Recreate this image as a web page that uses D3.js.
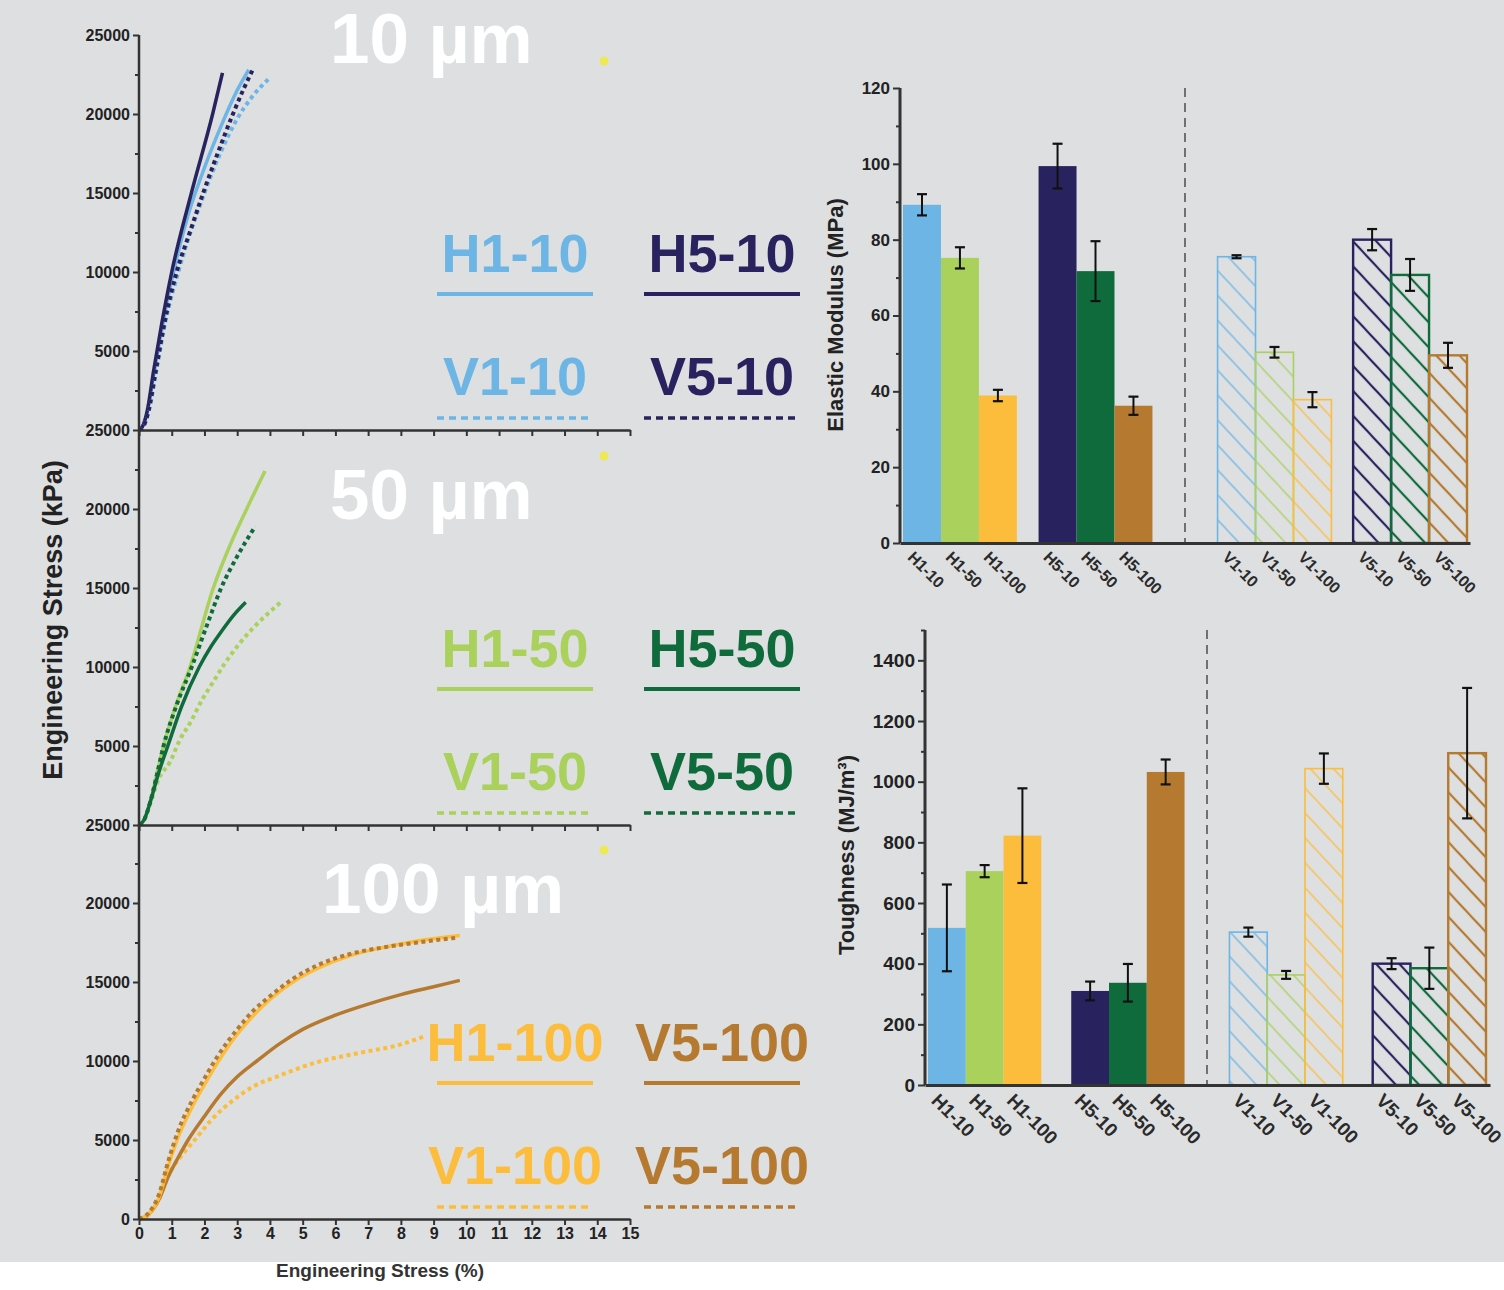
<!DOCTYPE html>
<html>
<head>
<meta charset="utf-8">
<script src="https://cdn.jsdelivr.net/npm/d3@7"></script>
<style>
  body { margin: 0; background: #fff; }
  svg text { font-family: "Liberation Sans", Arial, sans-serif; font-weight: bold; }
</style>
</head>
<body>
<svg id="fig" width="1504" height="1290"></svg>
<script>
// ---- stress-strain curves: [strain %, stress kPa] ----
var h1_10 = [[0,0],[0.1,200],[0.25,1100],[0.45,3500],[0.7,6400],[1.0,9500],[1.5,13600],[2.0,16600],[2.5,19200],[3.0,21500],[3.35,22800]];
var h5_10 = [[0,0],[0.1,200],[0.25,1200],[0.45,3800],[0.7,6800],[1.0,10000],[1.6,15000],[2.25,20000],[2.55,22600]];
var v1_10 = [[0,0],[0.15,300],[0.3,1200],[0.5,3400],[0.8,6800],[1.2,10000],[2.0,15000],[2.5,17600],[3.0,19700],[3.5,21200],[3.95,22200]];
var v5_10 = [[0,0],[0.15,300],[0.3,1300],[0.5,3600],[0.8,7000],[1.15,10000],[1.55,12500],[1.96,15000],[2.4,17500],[2.87,20000],[3.2,21600],[3.5,22900]];

var h1_50 = [[0,0],[0.15,300],[0.35,1500],[0.55,3300],[0.75,5000],[1.1,7400],[1.56,10000],[2.27,15000],[2.8,17800],[3.29,20000],[3.85,22400]];
var h5_50 = [[0,0],[0.15,300],[0.35,1500],[0.6,3300],[0.88,5000],[1.3,7500],[1.84,10000],[2.2,11300],[2.5,12200],[2.9,13300],[3.26,14100]];
var v1_50 = [[0,0],[0.15,300],[0.35,1400],[0.6,2900],[0.95,4000],[1.25,5400],[1.56,6450],[1.92,7900],[2.25,9000],[2.58,10100],[3.0,11300],[3.5,12500],[4.0,13500],[4.36,14150]];
var v5_50 = [[0,0],[0.15,300],[0.35,1500],[0.55,3200],[0.75,5000],[1.15,7600],[1.61,10000],[2.05,12500],[2.51,15000],[3.0,17000],[3.55,18900]];

var h1_100 = [[0,0],[0.3,300],[0.6,1300],[0.9,3400],[1.2,5200],[1.6,7000],[2.0,8500],[2.4,9900],[3.0,11700],[3.5,12900],[4.0,13900],[4.7,15000],[5.5,15900],[6.5,16700],[7.5,17200],[8.5,17600],[9.8,17950]];
var h5_100 = [[0,0],[0.3,300],[0.6,1200],[0.9,2700],[1.2,3900],[1.5,5000],[2.0,6500],[2.5,7900],[3.0,9000],[3.6,10000],[4.3,11100],[5.0,12000],[6.0,12900],[7.0,13600],[8.0,14200],[9.0,14700],[9.8,15100]];
var v1_100 = [[0,0],[0.3,300],[0.6,1200],[0.9,2800],[1.3,4000],[1.7,5000],[2.2,6250],[2.9,7550],[3.5,8400],[4.2,9000],[5.4,9900],[6.7,10500],[8.0,11050],[8.7,11550]];
var v5_100 = [[0,0],[0.3,400],[0.6,1500],[0.9,3700],[1.2,5600],[1.6,7400],[2.0,8900],[2.4,10300],[3.0,12000],[3.5,13200],[4.0,14100],[4.7,15200],[5.5,16100],[6.5,16800],[7.5,17200],[8.5,17500],[9.7,17800]];

var panelTitles = ["10 µm", "50 µm", "100 µm"];
var legendNames = [["H1-10","H5-10","V1-10","V5-10"],
                   ["H1-50","H5-50","V1-50","V5-50"],
                   ["H1-100","V5-100","V1-100","V5-100"]];

// ---- bar charts ----
var barLabels = ["H1-10","H1-50","H1-100","H5-10","H5-50","H5-100","V1-10","V1-50","V1-100","V5-10","V5-50","V5-100"];
var halves = ["H","V"];
var groups = ["1","5"];
var sizes = ["10","50","100"];
var modulus    = [89.2, 75.2, 38.9, 99.4, 71.7, 36.2, 75.5, 50.3, 37.8, 80.0, 70.7, 49.5];
var modulusErr = [2.8, 2.8, 1.5, 5.9, 7.9, 2.4, 0.4, 1.4, 2.0, 2.8, 4.2, 3.3];
var toughness    = [518, 705, 822, 310, 337, 1032, 504, 363, 1043, 400, 385, 1094];
var toughnessErr = [143, 20, 156, 31, 62, 41, 15, 13, 50, 18, 68, 215];

var colors = {
  "1-10": "#6cb5e5", "1-50": "#a9d15b", "1-100": "#fcbd3c",
  "5-10": "#28235f", "5-50": "#106b3c", "5-100": "#b57a2f"
};
function colorOf(name) { return colors[name.slice(1)]; }

var svg = d3.select("#fig");

// background
svg.append("rect").attr("width", 1504).attr("height", 1262).attr("fill", "#dddfe1");

// ================= left: stress-strain panels =================
var x = d3.scaleLinear().domain([0, 15]).range([139, 630]);

var panels = [
  { bottom: 430, top: 35,  series: [h1_10, h5_10, v1_10, v5_10], names: ["H1-10","H5-10","V1-10","V5-10"] },
  { bottom: 825, top: 430, series: [h1_50, v1_50, h5_50, v5_50], names: ["H1-50","V1-50","H5-50","V5-50"] },
  { bottom: 1219, top: 824, series: [v1_100, h5_100, h1_100, v5_100], names: ["V1-100","H5-100","H1-100","V5-100"] }
];

var line = d3.line().curve(d3.curveMonotoneX);

panels.forEach(function(p, i) {
  var y = d3.scaleLinear().domain([0, 25000]).range([p.bottom, p.top]);
  line.x(function(d) { return x(d[0]); }).y(function(d) { return y(d[1]); });

  // curves
  p.series.forEach(function(s, k) {
    var name = p.names[k];
    var dotted = name[0] === "V";
    svg.append("path")
      .attr("d", line(s))
      .attr("fill", "none")
      .attr("stroke", colorOf(name))
      .attr("stroke-width", dotted ? 4 : 3.5)
      .attr("stroke-dasharray", dotted ? "4,3.5" : null)
      .attr("stroke-linecap", "butt");
  });

  // y axis
  var major = i === 0 ? d3.range(0, 25001, 5000) : d3.range(0, 20001, 5000);
  var yAxis = svg.append("g")
    .attr("transform", "translate(139,0)")
    .call(d3.axisLeft(y).tickValues(major).tickSize(6).tickSizeOuter(0)
      .tickFormat(function(d) { return (d === 0 && i < 2) ? "25000" : d; }));
  yAxis.select(".domain").attr("d", "M0," + p.top + "V" + p.bottom);
  svg.append("g")
    .attr("transform", "translate(139,0)")
    .call(d3.axisLeft(y).tickValues(d3.range(2500, 25000, 5000)).tickSize(4).tickFormat(""))
    .select(".domain").remove();

  // x axis
  svg.append("g")
    .attr("transform", "translate(0," + p.bottom + ")")
    .call(d3.axisBottom(x).tickValues(d3.range(0, 16)).tickSize(6).tickSizeOuter(0)
      .tickFormat(i === 2 ? d3.format("d") : ""));

  // big size title
  svg.append("text")
    .attr("x", i === 2 ? 322 : 330)
    .attr("y", p.bottom - (i === 0 ? 367 : 306))
    .attr("fill", "#fff")
    .style("font-size", "71px")
    .text(panelTitles[i]);

  svg.append("circle")
    .attr("cx", 604).attr("cy", p.top + 26)
    .attr("r", 4.5).attr("fill", "#f1ea3c").attr("opacity", 0.85);

  // legend
  var lg = legendNames[i];
  lg.forEach(function(name, k) {
    var cx = k % 2 === 0 ? 515 : 722;
    var row = k < 2 ? 0 : 1;
    svg.append("text")
      .attr("x", cx).attr("y", p.bottom - (row === 0 ? 158 : 35))
      .attr("text-anchor", "middle")
      .attr("fill", colorOf(name))
      .style("font-size", "54px")
      .text(name);
    svg.append("line")
      .attr("x1", cx - 78).attr("x2", cx + 78)
      .attr("y1", p.bottom - (row === 0 ? 136 : 12))
      .attr("y2", p.bottom - (row === 0 ? 136 : 12))
      .attr("stroke", colorOf(name))
      .attr("stroke-width", row === 0 ? 4 : 3.5)
      .attr("stroke-dasharray", row === 0 ? null : "7,5");
  });
});

svg.selectAll(".tick text").style("font-size", "16px").attr("fill", "#222");
svg.selectAll(".domain").attr("stroke", "#333").attr("stroke-width", 2.5);
svg.selectAll(".tick line").attr("stroke", "#333").attr("stroke-width", 2);

svg.append("text")
  .attr("transform", "translate(62,620) rotate(-90)")
  .attr("text-anchor", "middle")
  .attr("fill", "#222")
  .style("font-size", "27px")
  .text("Engineering Stress (kPa)");

svg.append("text")
  .attr("x", 380).attr("y", 1277)
  .attr("text-anchor", "middle")
  .attr("fill", "#333")
  .style("font-size", "19px")
  .text("Engineering Stress (%)");

// ================= right: bar charts =================
var defs = svg.append("defs");
barLabels.forEach(function(name, i) {
  if (name[0] !== "V") return;
  var thick = name[1] === "5";
  var pat = defs.append("pattern")
    .attr("id", "hatch-" + i)
    .attr("patternUnits", "userSpaceOnUse")
    .attr("width", 20).attr("height", 17)
    .attr("patternTransform", "rotate(47)");
  pat.append("line")
    .attr("x1", 0).attr("x2", 20).attr("y1", 8).attr("y2", 8)
    .attr("stroke", colorOf(name))
    .attr("stroke-width", thick ? 2.2 : 1.3);
});

function barChart(opt) {
  var y = d3.scaleLinear().domain([0, opt.max]).range([opt.bottom, opt.top]);

  var xHalf = d3.scaleBand().domain(halves).range([opt.left, opt.right]).paddingInner(opt.halfPad);
  var xGroup = d3.scaleBand().domain(groups).range([0, xHalf.bandwidth()]).paddingInner(opt.groupPad);
  var xBar = d3.scaleBand().domain(sizes).range([0, xGroup.bandwidth()]);

  function barX(name) {
    var parts = name.split("-");
    return xHalf(parts[0][0]) + xGroup(parts[0][1]) + xBar(parts[1]);
  }

  var g = svg.append("g");

  // divider
  var divX = xHalf("H") + xHalf.bandwidth() + (xHalf("V") - xHalf("H") - xHalf.bandwidth()) / 2;
  g.append("line")
    .attr("x1", divX).attr("x2", divX)
    .attr("y1", opt.axisTop).attr("y2", opt.bottom)
    .attr("stroke", "#555").attr("stroke-width", 1.6)
    .attr("stroke-dasharray", "9,6");

  // bars
  g.selectAll("rect.bar")
    .data(barLabels)
    .enter()
    .append("rect")
      .attr("class", "bar")
      .attr("x", function(d) { return barX(d); })
      .attr("width", xBar.bandwidth())
      .attr("y", function(d, i) { return y(opt.values[i]); })
      .attr("height", function(d, i) { return opt.bottom - y(opt.values[i]); })
      .attr("fill", function(d, i) { return d[0] === "V" ? "url(#hatch-" + i + ")" : colorOf(d); })
      .attr("stroke", function(d) { return d[0] === "V" ? colorOf(d) : "none"; })
      .attr("stroke-width", function(d) { return d[1] === "5" ? 2.4 : 1.6; });

  // error bars
  barLabels.forEach(function(d, i) {
    var cx = barX(d) + xBar.bandwidth() / 2;
    var v = opt.values[i], e = opt.errors[i];
    g.append("line")
      .attr("x1", cx).attr("x2", cx)
      .attr("y1", y(v - e)).attr("y2", y(v + e))
      .attr("stroke", "#111").attr("stroke-width", 2);
    [v - e, v + e].forEach(function(t) {
      g.append("line")
        .attr("x1", cx - 5).attr("x2", cx + 5)
        .attr("y1", y(t)).attr("y2", y(t))
        .attr("stroke", "#111").attr("stroke-width", 2.2);
    });
  });

  // axes
  var yAx = g.append("g")
    .attr("transform", "translate(" + opt.axisX + ",0)")
    .call(d3.axisLeft(y).tickValues(d3.range(0, opt.labelMax + 1, opt.step)).tickSize(7).tickSizeOuter(0)
      .tickFormat(d3.format("d")));
  yAx.select(".domain").attr("d", "M0," + opt.axisTop + "V" + opt.bottom);
  g.append("g")
    .attr("transform", "translate(" + opt.axisX + ",0)")
    .call(d3.axisLeft(y).tickValues(d3.range(opt.step / 2, opt.max + 1, opt.step)).tickSize(4).tickFormat(""))
    .select(".domain").remove();

  g.append("g")
    .attr("transform", "translate(0," + opt.bottom + ")")
    .call(d3.axisBottom(d3.scaleLinear().range([opt.axisX, opt.axisEnd])).tickValues([]).tickSizeOuter(0));

  g.selectAll(".tick text").style("font-size", opt.tickFont).attr("fill", "#222");
  g.selectAll(".domain").attr("stroke", "#333").attr("stroke-width", 3);
  g.selectAll(".tick line").attr("stroke", "#333").attr("stroke-width", 2);

  // rotated category labels
  barLabels.forEach(function(d) {
    var cx = barX(d) + xBar.bandwidth() / 2;
    g.append("text")
      .attr("transform", "translate(" + (cx - 7) + "," + (opt.bottom + 7) + ") rotate(45)")
      .attr("dy", "0.72em")
      .attr("fill", "#2a2a2a")
      .style("font-size", opt.labelFont)
      .text(d);
  });

  g.append("text")
    .attr("transform", "translate(" + opt.titleX + "," + opt.titleY + ") rotate(-90)")
    .attr("text-anchor", "middle")
    .attr("fill", "#222")
    .style("font-size", opt.titleFont)
    .text(opt.title);
}

barChart({
  values: modulus, errors: modulusErr,
  max: 120, labelMax: 120, step: 20,
  top: 88, axisTop: 88, bottom: 543,
  axisX: 900, axisEnd: 1470,
  left: 903, right: 1467, halfPad: 0.207, groupPad: 0.16,
  tickFont: "17px", labelFont: "16px", titleFont: "22px",
  titleX: 843, titleY: 315,
  title: "Elastic Modulus (MPa)"
});

barChart({
  values: toughness, errors: toughnessErr,
  max: 1500, labelMax: 1400, step: 200,
  top: 630, axisTop: 630, bottom: 1085,
  axisX: 925, axisEnd: 1490,
  left: 928, right: 1486, halfPad: 0.149, groupPad: 0.209,
  tickFont: "19px", labelFont: "19px", titleFont: "22px",
  titleX: 854, titleY: 855,
  title: "Toughness (MJ/m³)"
});
</script>
</body>
</html>
